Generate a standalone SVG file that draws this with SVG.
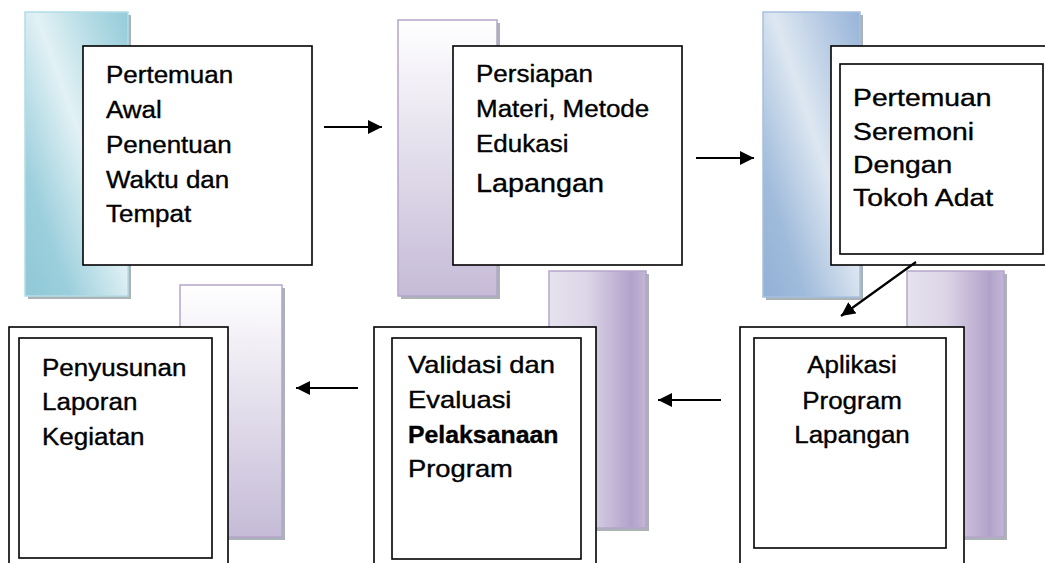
<svg xmlns="http://www.w3.org/2000/svg" width="1045" height="563" viewBox="0 0 1045 563">
<defs>
<linearGradient id="gCyan" x1="0" y1="1" x2="1" y2="0">
<stop offset="0" stop-color="#8fc8d7"/><stop offset="0.22" stop-color="#9ccfdc"/><stop offset="0.55" stop-color="#e2f1f5"/><stop offset="0.8" stop-color="#b3dbe4"/><stop offset="1" stop-color="#94cbd9"/>
</linearGradient>
<linearGradient id="gBlue" x1="0" y1="1" x2="1" y2="0">
<stop offset="0" stop-color="#92b1d6"/><stop offset="0.22" stop-color="#a0bbdb"/><stop offset="0.55" stop-color="#dde7f1"/><stop offset="0.8" stop-color="#b5c9e3"/><stop offset="1" stop-color="#96b4d8"/>
</linearGradient>
<linearGradient id="gPurpleV" x1="0" y1="0" x2="0" y2="1">
<stop offset="0" stop-color="#ffffff"/><stop offset="1" stop-color="#c5bbd7"/>
</linearGradient>
<linearGradient id="gPurpleH" x1="0" y1="0" x2="1" y2="0">
<stop offset="0" stop-color="#e6e2ee"/><stop offset="0.4" stop-color="#dcd5e7"/><stop offset="0.85" stop-color="#b2a2ca"/><stop offset="1" stop-color="#c3b7d6"/>
</linearGradient>
<marker id="ah" markerUnits="userSpaceOnUse" markerWidth="15" markerHeight="14" refX="14" refY="7" orient="auto">
<path d="M0,0 L14,7 L0,14 z" fill="#000"/>
</marker>
</defs>
<style>
.shadow{fill:#8f9a9e;opacity:0.75}
.box{fill:#fff;stroke:#000;stroke-width:1.6}
.t{font-family:"Liberation Sans",Arial,sans-serif;font-size:23px;fill:#000;stroke:#000;stroke-width:0.35}
.conn{stroke:#000;stroke-width:2.2;fill:none;marker-end:url(#ah)}
</style>
<rect width="1045" height="563" fill="#fff"/>

<g id="node1">
<rect class="shadow" x="28" y="15" width="103" height="284"/>
<rect x="25" y="12" width="103" height="284" fill="url(#gCyan)" stroke="#b3dde7" stroke-width="1.5"/>
<rect class="box" x="83" y="46" width="229" height="219"/>
<g transform="translate(106,0) scale(1.13,1)">
<text class="t" x="0" y="83">Pertemuan</text>
<text class="t" x="0" y="118">Awal</text>
<text class="t" x="0" y="153">Penentuan</text>
<text class="t" x="0" y="188">Waktu dan</text>
<text class="t" x="0" y="222">Tempat</text>
</g>
</g>

<g id="node2">
<rect class="shadow" x="401" y="23" width="99" height="276"/>
<rect x="398" y="20" width="99" height="276" fill="url(#gPurpleV)" stroke="#b5a6ca" stroke-width="1.5"/>
<rect class="box" x="453" y="46" width="229" height="219"/>
<g transform="translate(476,0) scale(1.13,1)">
<text class="t" x="0" y="82">Persiapan</text>
<text class="t" x="0" y="117">Materi, Metode</text>
<text class="t" x="0" y="152">Edukasi</text>
<text class="t" x="0" y="192" style="font-size:25.5px">Lapangan</text>
</g>
</g>

<g id="node3">
<rect class="shadow" x="766" y="15" width="97" height="285"/>
<rect x="763" y="12" width="97" height="285" fill="url(#gBlue)" stroke="#a6c0df" stroke-width="1.5"/>
<rect class="box" x="831" y="46" width="230" height="219"/>
<rect class="box" x="840" y="64" width="203" height="190"/>
<g transform="translate(853,0) scale(1.18,1)">
<text class="t" x="0" y="106" style="font-size:24px">Pertemuan</text>
<text class="t" x="0" y="140" style="font-size:24px">Seremoni</text>
<text class="t" x="0" y="173" style="font-size:24px">Dengan</text>
<text class="t" x="0" y="206" style="font-size:24px">Tokoh Adat</text>
</g>
</g>

<g id="node4">
<rect class="shadow" x="183" y="288" width="102" height="252"/>
<rect x="180" y="285" width="102" height="252" fill="url(#gPurpleV)" stroke="#b5a6ca" stroke-width="1.5"/>
<rect class="box" x="9" y="327" width="219" height="250"/>
<rect class="box" x="19" y="338" width="193" height="220"/>
<g transform="translate(42,0) scale(1.13,1)">
<text class="t" x="0" y="376">Penyusunan</text>
<text class="t" x="0" y="410">Laporan</text>
<text class="t" x="0" y="445">Kegiatan</text>
</g>
</g>

<g id="node5">
<rect class="shadow" x="552" y="274" width="97" height="257"/>
<rect x="549" y="271" width="97" height="257" fill="url(#gPurpleH)" stroke="#b5a6ca" stroke-width="1.5"/>
<rect class="box" x="374" y="327" width="222" height="250"/>
<rect class="box" x="392" y="338" width="189" height="221"/>
<g transform="translate(408,0) scale(1.19,1)">
<text class="t" x="0" y="373">Validasi dan</text>
<text class="t" x="0" y="408">Evaluasi</text>
<text class="t" x="0" y="477">Program</text>
</g>
<g transform="translate(408,0) scale(1.08,1)">
<text class="t" x="0" y="443" font-weight="bold">Pelaksanaan</text>
</g>
</g>

<g id="node6">
<rect class="shadow" x="910" y="274" width="97" height="266"/>
<rect x="907" y="271" width="97" height="266" fill="url(#gPurpleH)" stroke="#b5a6ca" stroke-width="1.5"/>
<rect class="box" x="740" y="327" width="224" height="250"/>
<rect class="box" x="754" y="338" width="192" height="210"/>
<g transform="translate(852,0) scale(1.13,1)">
<text class="t" x="0" y="373" text-anchor="middle">Aplikasi</text>
<text class="t" x="0" y="409" text-anchor="middle">Program</text>
<text class="t" x="0" y="443" text-anchor="middle">Lapangan</text>
</g>
</g>

<g id="connectors">
<line class="conn" x1="324" y1="127" x2="382" y2="127"/>
<line class="conn" x1="696" y1="158" x2="754" y2="158"/>
<line class="conn" x1="916" y1="262" x2="841" y2="316"/>
<line class="conn" x1="721" y1="400" x2="658" y2="400"/>
<line class="conn" x1="358" y1="388" x2="296" y2="388"/>
</g>
</svg>
